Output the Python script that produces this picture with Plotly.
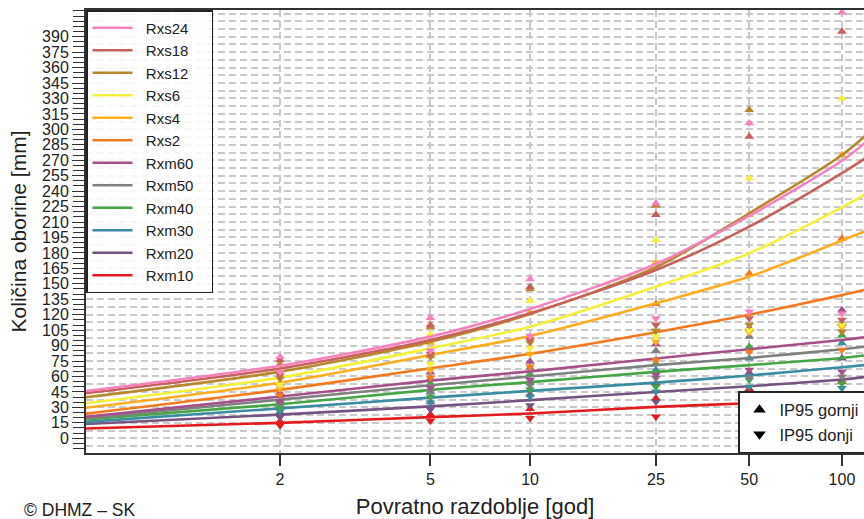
import numpy as np
import plotly.graph_objects as go

# ---------------- data ----------------
series_names = ["Rxs24", "Rxs18", "Rxs12", "Rxs6", "Rxs4", "Rxs2",
                "Rxm60", "Rxm50", "Rxm40", "Rxm30", "Rxm20", "Rxm10"]
series_colors = ["#f781bf", "#c8605c", "#b8862b", "#f5f03a", "#ffad1f", "#f47a20",
                 "#a5508a", "#7f8080", "#45a645", "#3a8ca0", "#765382", "#e41a1c"]

# return periods [years] at which the fitted curves were read
curve_periods = [1.05, 2, 5, 10, 25, 50, 100, 120]
rxs24_level = [45.6, 70.5, 98.7, 125.6, 169.3, 215.9, 269.5, 288.0]
rxs18_level = [43.5, 67.8, 95.5, 121.4, 163.4, 205.5, 257.4, 272.5]
rxs12_level = [39.5, 64.7, 93.8, 120.7, 166.1, 218.5, 275.1, 294.5]
rxs6_level = [33.7, 58.9, 87.4, 108.4, 147.2, 179.7, 224.3, 237.5]
rxs4_level = [29.4, 54.0, 80.9, 99.3, 131.1, 157.0, 192.0, 201.5]
rxs2_level = [23.7, 47.0, 68.0, 82.0, 103.0, 120.0, 139.0, 144.5]
rxm60_level = [20.6, 40.5, 56.0, 65.0, 77.5, 86.5, 95.5, 98.2]
rxm50_level = [19.1, 37.5, 51.5, 60.0, 71.0, 78.0, 86.5, 89.2]
rxm40_level = [18.0, 33.0, 47.0, 54.5, 64.5, 71.0, 78.0, 80.7]
rxm30_level = [15.8, 29.0, 39.5, 46.0, 54.0, 61.0, 69.0, 71.2]
rxm20_level = [13.7, 23.0, 31.0, 37.0, 45.0, 50.5, 57.0, 59.6]
rxm10_level = [9.4, 15.0, 20.5, 24.0, 30.5, 34.0, 37.5, 38.6]

# 95% confidence interval bounds (IP95) at the plotted return periods
ci_periods = [2, 5, 10, 25, 50, 100]
rxs24_upper = [79.0, 117.0, 154.5, 228.0, 306.0, 413.5]
rxs24_lower = [64.5, 85.0, 99.5, 116.5, 123.0, 121.0]
rxs18_upper = [76.0, 110.0, 147.0, 217.0, 293.0, 395.0]
rxs18_lower = [61.0, 82.0, 95.5, 110.0, 116.5, 115.0]
rxs12_upper = [72.0, 108.0, 145.0, 226.0, 319.0, 440.0]
rxs12_lower = [58.0, 79.0, 93.0, 104.5, 110.0, 103.5]
rxs6_upper = [66.0, 101.0, 133.5, 192.5, 252.5, 330.0]
rxs6_lower = [52.0, 72.0, 87.5, 98.7, 105.0, 110.0]
rxs4_upper = [60.0, 93.0, 122.0, 170.5, 217.0, 275.0]
rxs4_lower = [48.0, 66.0, 82.0, 93.8, 103.0, 108.0]
rxs2_upper = [53.0, 80.0, 98.0, 130.5, 160.0, 194.0]
rxs2_lower = [42.0, 59.0, 69.5, 76.0, 84.0, 85.8]
rxm60_upper = [44.0, 64.0, 74.5, 91.5, 107.0, 124.5]
rxm60_lower = [36.0, 49.0, 56.5, 61.5, 66.3, 64.7]
rxm50_upper = [41.5, 58.0, 68.5, 85.0, 98.7, 112.0]
rxm50_lower = [33.5, 45.0, 51.5, 58.3, 59.0, 59.8]
rxm40_upper = [36.5, 53.0, 62.5, 72.8, 89.0, 100.0]
rxm40_lower = [29.5, 40.5, 47.5, 50.0, 56.6, 53.4]
rxm30_upper = [32.0, 45.0, 53.5, 66.3, 77.7, 92.3]
rxm30_lower = [26.0, 34.5, 40.5, 45.3, 50.0, 48.6]
rxm20_upper = [25.5, 35.0, 42.5, 53.4, 63.7, 77.7]
rxm20_lower = [20.5, 28.0, 32.0, 35.5, 40.0, 40.0]
rxm10_upper = [16.5, 23.0, 28.5, 38.8, 48.0, 55.0]
rxm10_lower = [12.5, 17.0, 19.5, 21.0, 24.0, 24.0]

levels = [rxs24_level, rxs18_level, rxs12_level, rxs6_level, rxs4_level, rxs2_level,
          rxm60_level, rxm50_level, rxm40_level, rxm30_level, rxm20_level, rxm10_level]
uppers = [rxs24_upper, rxs18_upper, rxs12_upper, rxs6_upper, rxs4_upper, rxs2_upper,
          rxm60_upper, rxm50_upper, rxm40_upper, rxm30_upper, rxm20_upper, rxm10_upper]
lowers = [rxs24_lower, rxs18_lower, rxs12_lower, rxs6_lower, rxs4_lower, rxs2_lower,
          rxm60_lower, rxm50_lower, rxm40_lower, rxm30_lower, rxm20_lower, rxm10_lower]

x_tick_periods = [2, 5, 10, 25, 50, 100]
x_tick_labels = ["2", "5", "10", "25", "50", "100"]
y_tick_values = list(range(0, 391, 15))
y_tick_labels = [str(v) for v in y_tick_values]
x_range_periods = [1.053, 118]
y_range = [-14.3, 415.9]


def gumbel(T):
    """Gumbel reduced variate (probability-paper x axis)."""
    T = np.asarray(T, dtype=float)
    return -np.log(-np.log(1.0 - 1.0 / T))


FONT = "Liberation Sans, Arial, sans-serif"
GRID = "#c9c9c9"
NB = "\u00a0"

fig = go.Figure()

# draw from bottom series up so Rxs24 lies on top
for name, col, lev, up, lo in reversed(list(zip(series_names, series_colors, levels, uppers, lowers))):
    fig.add_trace(go.Scatter(
        x=gumbel(curve_periods), y=lev, mode="lines", name=NB * 2 + name + NB * 3,
        line=dict(color=col, width=2.6, shape="spline", smoothing=0.8),
        legend="legend",
    ))
    fig.add_trace(go.Scatter(
        x=gumbel(ci_periods), y=up, mode="markers", showlegend=False,
        marker=dict(symbol="triangle-up", size=8.5, color=col), hoverinfo="skip",
    ))
    fig.add_trace(go.Scatter(
        x=gumbel(ci_periods), y=lo, mode="markers", showlegend=False,
        marker=dict(symbol="triangle-down", size=8.5, color=col), hoverinfo="skip",
    ))

# legend 2: confidence interval symbols
fig.add_trace(go.Scatter(x=[None], y=[None], mode="markers", name="IP95 gornji",
                         marker=dict(symbol="triangle-up", size=11, color="black"),
                         legend="legend2"))
fig.add_trace(go.Scatter(x=[None], y=[None], mode="markers", name="IP95 donji",
                         marker=dict(symbol="triangle-down", size=11, color="black"),
                         legend="legend2"))

xr = gumbel(x_range_periods).tolist()

fig.update_layout(
    width=864, height=519,
    margin=dict(l=86, r=0, t=10, b=66, autoexpand=False),
    paper_bgcolor="white", plot_bgcolor="white",
    font=dict(family=FONT, color="#222222", size=14),
    showlegend=True,
    legend=dict(x=0, y=1, xanchor="left", yanchor="top",
                bgcolor="rgba(255,255,255,0.85)", bordercolor="#222222", borderwidth=1.5,
                font=dict(size=15, family=FONT, color="#222222"),
                traceorder="reversed", itemwidth=40, tracegroupgap=0),
    legend2=dict(x=(738 - 86) / 778, y=0, xanchor="left", yanchor="bottom",
                 bgcolor="white", bordercolor="#222222", borderwidth=1.5,
                 font=dict(size=16.5, family=FONT, color="#222222"), itemwidth=30),
    xaxis=dict(
        range=xr, tickmode="array", tickvals=gumbel(x_tick_periods).tolist(), ticktext=x_tick_labels,
        ticks="outside", ticklen=11, tickwidth=1.5, tickcolor="#333333",
        showline=True, linecolor="#333333", linewidth=2, mirror=True,
        showgrid=True, gridcolor=GRID, griddash="7px,4px", gridwidth=1.5, zeroline=False,
        tickfont=dict(size=16), automargin=False,
        title=dict(text="Povratno razdoblje [god]", font=dict(size=22), standoff=12),
    ),
    yaxis=dict(
        range=y_range, tickmode="array", tickvals=y_tick_values, ticktext=y_tick_labels,
        ticks="outside", ticklen=12, tickwidth=1.3, tickcolor="#333333",
        showline=True, linecolor="#333333", linewidth=2, mirror=False,
        showgrid=False, zeroline=False, tickfont=dict(size=16), automargin=False,
        minor=dict(tickmode="linear", tick0=0, dtick=7.5, showgrid=True, gridcolor=GRID,
                   griddash="7px,4px", gridwidth=1.5, ticks=""),
        title=dict(text="Količina oborine [mm]", font=dict(size=21), standoff=10),
    ),
    yaxis2=dict(
        overlaying="y", matches="y", anchor="x", side="left", automargin=False,
        tickmode="linear", tick0=0, dtick=5, ticks="outside", ticklen=12, tickwidth=1.3,
        tickcolor="#333333", showticklabels=False, showgrid=False, zeroline=False, showline=False,
    ),
)

# dummy trace so the overlay axis is rendered
fig.add_trace(go.Scatter(x=[None], y=[None], yaxis="y2", showlegend=False, hoverinfo="skip"))

fig.add_annotation(text="© DHMZ – SK", xref="paper", yref="paper",
                   x=(22 - 86) / 778, y=(453 - 510) / 443, xanchor="left", yanchor="middle",
                   showarrow=False, font=dict(size=17.5, family=FONT, color="#222222"))

fig.write_html("out.html", config={"displayModeBar": False},
               post_script="document.body.style.margin='0px';document.body.style.overflow='hidden';")
